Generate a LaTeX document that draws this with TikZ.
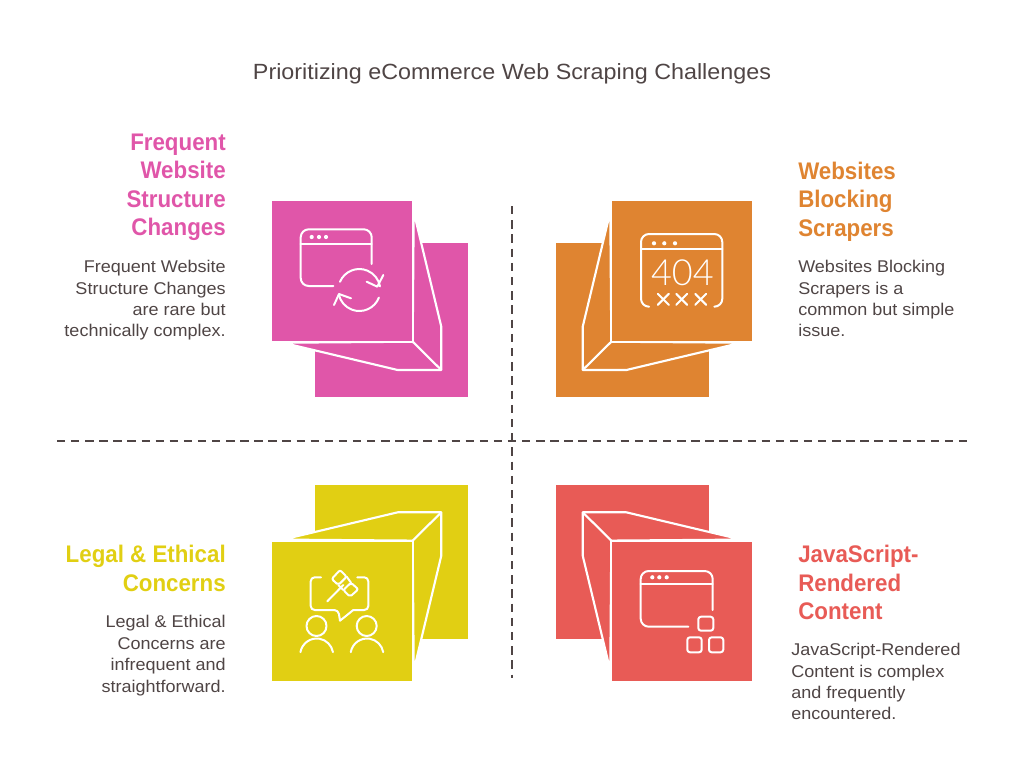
\documentclass[tikz,border=0pt]{standalone}
\usepackage{fontspec}
\setmainfont{Liberation Sans}[FakeStretch=0.93]
\newfontfamily\widefont{Liberation Sans}[FakeStretch=1.06]
\newfontfamily\errorfont{Lato Light}
\definecolor{inktext}{HTML}{4F4545}
\definecolor{pinkfill}{HTML}{E056A9}
\definecolor{orangefill}{HTML}{DF8431}
\definecolor{yellowfill}{HTML}{E1CF13}
\definecolor{redfill}{HTML}{E85B56}
\tikzset{
	headtext/.style={inner sep=0pt, font=\fontsize{18}{21.4}\selectfont\bfseries},
	bodytext/.style={inner sep=0pt, text=inktext, font=\widefont\fontsize{12.75}{16.1}\selectfont},
	icon/.style={draw=white, line width=1.5pt, line cap=round, line join=round},
	divider/.style={draw=inktext, line width=1.5pt},
}
% block in the pink corner, the others are its mirror images
\def\blockshape#1{
	\fill[#1] (314.7, 243.3) rectangle (468.3, 397.3);
	\draw[fill=#1, draw=white, line width=1.6pt, line join=round] (413.7, 211.7) -- (441.3, 326.7) -- (441.3, 370) -- (397.7, 370) -- (282.7, 342.7) -- (412.7, 341.7) -- cycle;
	\draw[white, line width=1.6pt, line join=round] (412.7, 341.7) -- (441.3, 370);
	\draw[fill=#1, draw=white, line width=1.6pt] (271, 200) rectangle (412.7, 341.7);
}
\def\icondots(#1,#2,#3)(#4){
	\fill[white] (#1, #4) circle (2.1);
	\fill[white] (#2, #4) circle (2.1);
	\fill[white] (#3, #4) circle (2.1);
}
\begin{document}
\begin{tikzpicture}[x=0.75pt, y=-0.75pt]
			%%%%% START %%%%%
			\useasboundingbox (0, 0) rectangle (1024, 783);
			
			\node[text=inktext, font=\widefont\fontsize{16.5}{19}\selectfont] (title) at (512, 74) {Prioritizing eCommerce Web Scraping Challenges};
			
			\coordinate (hleft) at (57, 441);
			\coordinate (hright) at (967.5, 441);
			\coordinate (vtop) at (512, 206);
			\coordinate (vbottom) at (512, 678);
			\draw[divider, dash pattern=on 6.3pt off 4.27pt] (hleft) -- (hright);
			\draw[divider, dash pattern=on 6.3pt off 4.35pt] (vtop) -- (vbottom);
			
			\blockshape{pinkfill}
			\begin{scope}[shift={(1024, 0)}, xscale=-1]
				\blockshape{orangefill}
			\end{scope}
			\begin{scope}[shift={(0, 882.3)}, yscale=-1]
				\blockshape{yellowfill}
			\end{scope}
			\begin{scope}[shift={(1024, 882.3)}, xscale=-1, yscale=-1]
				\blockshape{redfill}
			\end{scope}
			
			% pink icon
			\draw[icon, rounded corners=6] (333.3, 286) -- (300.7, 286) -- (300.7, 229.3) -- (371.7, 229.3) -- (371.7, 264);
			\draw[icon] (300.7, 244) -- (371.7, 244);
			\icondots(311.7,319,326)(237)
			\draw[icon] (359.3, 290) ++(203:21) arc (203:350:21);
			\draw[icon] (366.7, 281.7) -- (377.3, 286.7) -- (383.3, 275);
			\draw[icon] (359.3, 290) ++(21:21) arc (21:168:21);
			\draw[icon] (351, 298.3) -- (339, 294) -- (334, 305);
			
			% orange icon
			\draw[icon, rounded corners=6] (648.3, 306.7) -- (641, 306.7) -- (641, 234) -- (722.3, 234) -- (722.3, 306.7) -- (715, 306.7);
			\draw[icon] (641, 249.3) -- (722.3, 249.3);
			\icondots(654,664.3,675)(243.3)
			\node[inner sep=0pt, text=white, font=\errorfont\fontsize{27}{27}\selectfont] (notfound) at (682.4, 273) {404};
			\foreach \crossx in {663.3, 681.7, 700.7} {
				\draw[icon] (\crossx-5.5, 293.8) -- (\crossx+5.5, 304.8);
				\draw[icon] (\crossx-5.5, 304.8) -- (\crossx+5.5, 293.8);
			}
			
			% yellow icon
			\draw[icon, rounded corners=3] (321, 577.3) -- (310.7, 577.3) -- (310.7, 610) -- (338.3, 610) [sharp corners] -- (340, 620.7) -- (353.3, 610) [rounded corners=3] -- (368.3, 610) -- (368.3, 577.3) -- (357.3, 577.3);
			\draw[icon] (327.3, 601.3) -- (343.3, 585);
			\draw[icon, rounded corners=1.5] (340, 570) -- (346.7, 576.7) -- (338.3, 585) -- (331.7, 579) -- cycle;
			\draw[icon, rounded corners=1.5] (351, 582.7) -- (358.3, 589.3) -- (350, 596.7) -- (343.3, 590) -- cycle;
			\draw[icon] (346.7, 576.7) -- (351, 582.7);
			\draw[icon] (338.3, 585) -- (343.3, 590);
			\draw[icon] (316.5, 626) circle (10);
			\draw[icon] (366.7, 626) circle (10);
			\draw[icon] (316.7, 655) ++(190:16.5) arc (190:350:16.5);
			\draw[icon] (367, 655) ++(190:16.5) arc (190:350:16.5);
			
			% red icon
			\draw[icon, rounded corners=6] (688.3, 626.7) -- (640.7, 626.7) -- (640.7, 571) -- (712.7, 571) -- (712.7, 610);
			\draw[icon] (640.7, 584) -- (712.7, 584);
			\icondots(652.3,659.3,666.7)(577.3)
			\draw[icon, rounded corners=2] (698.3, 616.7) rectangle (713.3, 630.7);
			\draw[icon, rounded corners=2] (687.3, 637.3) rectangle (701.7, 652.3);
			\draw[icon, rounded corners=2] (709, 637.3) rectangle (723.3, 652.3);
			
			% labels
			\node[headtext, text=pinkfill, anchor=north east, align=right] (pinkhead) at (226, 133.5) {Frequent\\Website\\Structure\\Changes};
			\node[bodytext, anchor=north east, align=right] (pinkbody) at (226, 260) {Frequent Website\\Structure Changes\\are rare but\\technically complex.};
			
			\node[headtext, text=orangefill, anchor=north west, align=left] (orangehead) at (798, 161.5) {Websites\\Blocking\\Scrapers};
			\node[bodytext, anchor=north west, align=left] (orangebody) at (798, 260) {Websites Blocking\\Scrapers is a\\common but simple\\issue.};
			
			\node[headtext, text=yellowfill, anchor=north east, align=right] (yellowhead) at (226, 545) {Legal \& Ethical\\Concerns};
			\node[bodytext, anchor=north east, align=right] (yellowbody) at (226, 615) {Legal \& Ethical\\Concerns are\\infrequent and\\straightforward.};
			
			\node[headtext, text=redfill, anchor=north west, align=left] (redhead) at (798, 545) {JavaScript-\\Rendered\\Content};
			\node[bodytext, anchor=north west, align=left] (redbody) at (791, 643) {JavaScript-Rendered\\Content is complex\\and frequently\\encountered.};
			
			%%%%% END %%%%%
		\end{tikzpicture}
\end{document}
